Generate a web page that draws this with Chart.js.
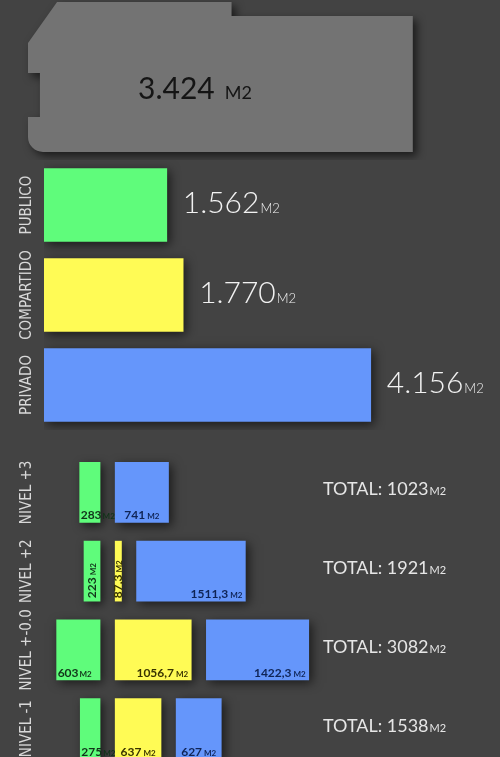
<!DOCTYPE html>
<html>
<head>
<meta charset="utf-8">
<script src="https://cdn.jsdelivr.net/npm/chart.js@4"></script>
<style>
  html, body { margin:0; padding:0; background:#434343; overflow:hidden; }
  body { width:500px; height:757px; position:relative; }
  .box { position:absolute; left:0; width:500px; }
</style>
</head>
<body>
<div class="box" style="top:0;height:160px"><canvas id="totalChart"></canvas></div>
<div class="box" style="top:160px;height:270px"><canvas id="usoChart"></canvas></div>
<div class="box" style="top:453px;height:315px"><canvas id="nivelChart"></canvas></div>
<script>
/* superficies (m2) */
const totalArea = 3424;

const usoLabels = ['PUBLICO', 'COMPARTIDO', 'PRIVADO'];
const usoValues = [1562, 1770, 4156];

const nivelLabels     = ['NIVEL +3', 'NIVEL +2', 'NIVEL +-0.0', 'NIVEL -1'];
const nivelPublico    = [283, 223, 603, 275];
const nivelCompartido = [null, 87.3, 1056.7, 637];
const nivelPrivado    = [741, 1511.3, 1422.3, 627];
const nivelTotal      = [1023, 1921, 3082, 1538];

const C_GREEN = '#5ffc7b', C_YELLOW = '#fffb55', C_BLUE = '#6596fb', C_GREY = '#737373';
const FONT = "'Lato', 'Open Sans', sans-serif";
const SIDE_FONT = "'Liberation Sans Narrow', 'DejaVu Sans Condensed', sans-serif";

const fmtMiles = v => String(v).replace(/\B(?=(\d{3})+(?!\d))/g, '.');
const fmtDec = v => String(v).replace('.', ',');

// number + small "M2"
function unitWidth(ctx, num, big, small, weight, gap) {
  ctx.font = `${weight} ${big}px ${FONT}`;
  const a = ctx.measureText(num).width;
  ctx.font = `${weight} ${small}px ${FONT}`;
  return a + gap + ctx.measureText('M2').width;
}
function unitText(ctx, x, y, num, big, small, color, weight, gap) {
  ctx.save();
  ctx.fillStyle = color;
  ctx.textAlign = 'left';
  ctx.textBaseline = 'alphabetic';
  ctx.font = `${weight} ${big}px ${FONT}`;
  const a = ctx.measureText(num).width;
  ctx.fillText(num, x, y);
  ctx.font = `${weight} ${small}px ${FONT}`;
  ctx.fillText('M2', x + a + gap, y);
  ctx.restore();
}

const shadow = {
  id: 'shadow',
  beforeDatasetsDraw(chart) {
    const ctx = chart.ctx;
    ctx.save();
    ctx.shadowColor = 'rgba(0,0,0,0.6)';
    ctx.shadowBlur = 10;
    ctx.shadowOffsetX = 3;
    ctx.shadowOffsetY = 3;
  },
  afterDatasetsDraw(chart) { chart.ctx.restore(); }
};

const sideLabels = {
  id: 'sideLabels',
  afterDraw(chart) {
    const ctx = chart.ctx, y = chart.scales.y;
    ctx.save();
    ctx.fillStyle = '#d8d8d8';
    ctx.font = `15px ${SIDE_FONT}`;
    ctx.textAlign = 'center';
    ctx.textBaseline = 'middle';
    chart.data.labels.forEach((lab, i) => {
      ctx.save();
      ctx.translate(27, y.getPixelForValue(i));
      ctx.rotate(-Math.PI / 2);
      ctx.fillText(lab, 0, 0);
      ctx.restore();
    });
    ctx.restore();
  }
};

const BASE_OPTS = {
  indexAxis: 'y',
  responsive: true,
  maintainAspectRatio: false,
  animation: false,
  events: [],
  plugins: { legend: { display: false }, tooltip: { enabled: false } }
};

// ---- superficie total (planta) ----
const plantShape = {
  id: 'plantShape',
  afterDatasetsDraw(chart) {
    const el = chart.getDatasetMeta(0).data[0];
    const { x, y, base, height } = el.getProps(['x', 'y', 'base', 'height'], true);
    const L = base, R = x, T = y - height / 2, B = y + height / 2;
    const w = R - L, h = B - T;
    const P = (fx, fy) => [L + fx * w, T + fy * h];
    const ctx = chart.ctx;
    ctx.save();
    ctx.shadowColor = 'rgba(0,0,0,0.6)';
    ctx.shadowBlur = 8;
    ctx.shadowOffsetX = 4;
    ctx.shadowOffsetY = 4;
    ctx.fillStyle = C_GREY;
    ctx.beginPath();
    ctx.moveTo(...P(0.0755, 0));
    ctx.lineTo(...P(0.529, 0));
    ctx.lineTo(...P(0.529, 0.093));
    ctx.lineTo(...P(1, 0.093));
    ctx.lineTo(...P(1, 1));
    ctx.arcTo(L, B, L, B - 15, 15);
    ctx.lineTo(...P(0, 0.767));
    ctx.lineTo(...P(0.031, 0.767));
    ctx.lineTo(...P(0.031, 0.473));
    ctx.lineTo(...P(0, 0.473));
    ctx.lineTo(...P(0, 0.273));
    ctx.closePath();
    ctx.fill();
    ctx.restore();

    ctx.save();
    ctx.fillStyle = '#151515';
    ctx.font = `400 30px ${FONT}`;
    const num = fmtMiles(chart.data.datasets[0].data[0]);
    const tx = L + 0.286 * w, ty = y + 22;
    ctx.fillText(num, tx, ty);
    const a = ctx.measureText(num).width;
    ctx.font = `400 18px ${FONT}`;
    ctx.fillText('M2', tx + a + 10, ty);
    ctx.restore();
  }
};

new Chart(document.getElementById('totalChart'), {
  type: 'bar',
  data: { labels: ['TOTAL'], datasets: [{ data: [totalArea], backgroundColor: 'rgba(0,0,0,0)', barThickness: 150 }] },
  options: {
    ...BASE_OPTS,
    layout: { padding: { left: 28, right: 0, top: 0, bottom: 6 } },
    scales: { x: { display: false, min: 0, max: 4200 }, y: { display: false } }
  },
  plugins: [plantShape]
});

// ---- por uso ----
const usoValueLabels = {
  id: 'usoValueLabels',
  afterDatasetsDraw(chart) {
    const ctx = chart.ctx;
    chart.getDatasetMeta(0).data.forEach((el, i) => {
      unitText(ctx, el.x + 16, el.y + 8, fmtMiles(usoValues[i]), 30, 13, '#f2f2f2', 300, 1);
    });
  }
};

new Chart(document.getElementById('usoChart'), {
  type: 'bar',
  data: {
    labels: usoLabels,
    datasets: [{ data: usoValues, backgroundColor: [C_GREEN, C_YELLOW, C_BLUE], borderWidth: 0, barThickness: 73 }]
  },
  options: {
    ...BASE_OPTS,
    layout: { padding: { left: 44, right: 0, top: 0, bottom: 0 } },
    scales: { x: { display: false, min: 0, max: 5800 }, y: { display: false } }
  },
  plugins: [shadow, sideLabels, usoValueLabels]
});

// ---- por nivel ----
const GAP = 210;
const pubData  = nivelPublico.map(v => [-v, 0]);
const compData = nivelCompartido.map(v => v == null ? null : [GAP, GAP + v]);
const privData = nivelPrivado.map((v, i) => {
  const s = nivelCompartido[i] == null ? GAP : GAP * 2 + nivelCompartido[i];
  return [s, s + v];
});
const nivelSeries = [nivelPublico, nivelCompartido, nivelPrivado];
const inkColors = ['#12331a', '#383300', '#0f2456'];

const nivelValueLabels = {
  id: 'nivelValueLabels',
  afterDatasetsDraw(chart) {
    const ctx = chart.ctx;
    nivelSeries.forEach((series, d) => {
      chart.getDatasetMeta(d).data.forEach((el, i) => {
        const v = series[i];
        if (v == null) return;
        const { x, y, base, height } = el.getProps(['x', 'y', 'base', 'height'], true);
        const left = Math.min(x, base), right = Math.max(x, base);
        const bw = right - left, bottom = y + height / 2;
        const num = fmtDec(v);
        const tw = unitWidth(ctx, num, 12, 8, 700, 2);
        if (d === 0 && bw > 18) {
          unitText(ctx, left + 1, bottom - 3, num, 12, 8, inkColors[d], 700, 1);
        } else if (tw + 2 <= bw) {
          const tx = bw < 60 ? (left + right) / 2 - tw / 2 : right - 3 - tw;
          unitText(ctx, tx, bottom - 3, num, 12, 8, inkColors[d], 700, 2);
        } else {
          ctx.save();
          ctx.translate((left + right) / 2 + 4, bottom - 3);
          ctx.rotate(-Math.PI / 2);
          unitText(ctx, 0, 0, num, 12, 8, inkColors[d], 700, 2);
          ctx.restore();
        }
      });
    });
  },
  afterDraw(chart) {
    const ys = chart.scales.y;
    nivelTotal.forEach((t, i) => {
      unitText(chart.ctx, 323, ys.getPixelForValue(i) + 3, 'TOTAL: ' + t, 18, 11, '#e6e6e6', 400, 1);
    });
  }
};

new Chart(document.getElementById('nivelChart'), {
  type: 'bar',
  data: {
    labels: nivelLabels,
    datasets: [
      { label: 'PUBLICO', data: pubData, backgroundColor: C_GREEN, grouped: false, barThickness: 60, borderWidth: 0 },
      { label: 'COMPARTIDO', data: compData, backgroundColor: C_YELLOW, grouped: false, barThickness: 60, borderWidth: 0 },
      { label: 'PRIVADO', data: privData, backgroundColor: C_BLUE, grouped: false, barThickness: 60, borderWidth: 0 }
    ]
  },
  options: {
    ...BASE_OPTS,
    layout: { padding: 0 },
    scales: { x: { display: false, min: -1390, max: 5556 }, y: { display: false } }
  },
  plugins: [shadow, sideLabels, nivelValueLabels]
});
</script>
</body>
</html>
